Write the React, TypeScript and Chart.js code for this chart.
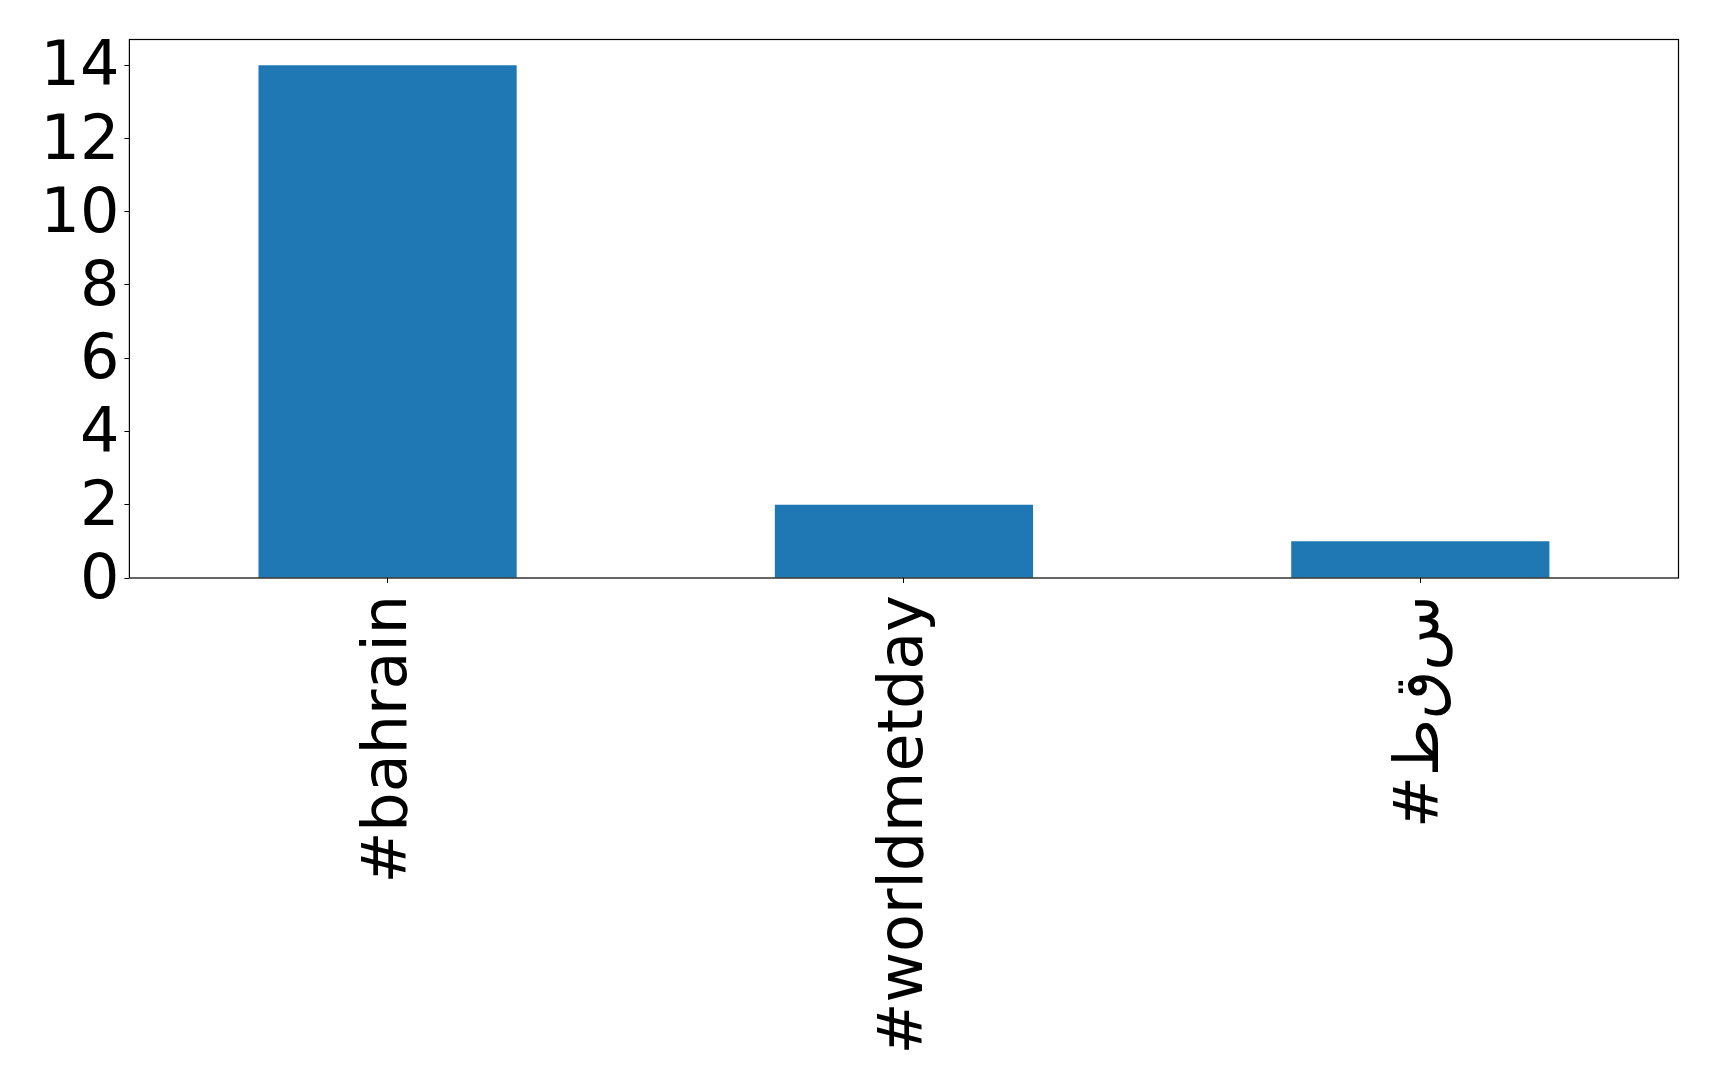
import React, { useEffect, useRef } from "react";
import { Chart, registerables } from "chart.js";

Chart.register(...registerables);

const categories = ["#bahrain", "#worldmetday", "#طقس"];
const counts = [14, 2, 1];
const yTickValues = [0, 2, 4, 6, 8, 10, 12, 14];
const yMin = 0;
const yMax = 14.7;

// matplotlib draws Arabic letters unshaped, in logical order, left to right
const ISOLATED: Record<string, string> = { "ط": "\uFEC1", "ق": "\uFED5", "س": "\uFEB1" };
function unshaped(s: string): string {
  const mapped = Array.from(s).map((c) => ISOLATED[c] ?? c).join("");
  return mapped !== s ? "\u202D" + mapped + "\u202C" : s;
}

const FONT = "'DejaVu Sans', sans-serif";

const framePlugin = {
  id: "frame",
  afterDraw(chart: any) {
    const { ctx, chartArea: a } = chart;
    ctx.save();
    ctx.strokeStyle = "#000";
    ctx.lineWidth = 1.2;
    ctx.strokeRect(a.left, a.top, a.right - a.left, a.bottom - a.top);
    ctx.restore();
  },
};

export default function App() {
  const ref = useRef<HTMLCanvasElement | null>(null);
  useEffect(() => {
    const prevMargin = document.body.style.margin;
    document.body.style.margin = "0";
    const canvas = ref.current!;
    const chart = new Chart(canvas, {
      type: "bar",
      data: {
        labels: categories,
        datasets: [
          {
            data: counts,
            backgroundColor: "#1f77b4",
            borderWidth: 0,
            categoryPercentage: 1,
            barPercentage: 0.5,
          },
        ],
      },
      plugins: [framePlugin],
      options: {
        animation: false,
        responsive: false,
        devicePixelRatio: 1,
        layout: { padding: { left: 0, top: 39.5, right: 40.5, bottom: 0 } },
        plugins: { legend: { display: false }, tooltip: { enabled: false } },
        scales: {
          x: {
            type: "category",
            offset: true,
            border: { display: false },
            grid: {
              offset: false,
              drawOnChartArea: false,
              drawTicks: true,
              tickLength: 5,
              color: "#000",
              lineWidth: 1,
            },
            ticks: {
              color: "#000",
              font: { family: FONT, size: 62 },
              minRotation: 90,
              maxRotation: 90,
              autoSkip: false,
              padding: 12,
              labelOffset: 2,
              callback: function (this: any, v: any) {
                return unshaped(this.getLabelForValue(v));
              },
            },
            afterFit: (s: any) => {
              s.height = 513;
              s.paddingLeft = 0;
              s.paddingRight = 0;
            },
          },
          y: {
            min: yMin,
            max: yMax,
            border: { display: false },
            grid: {
              drawOnChartArea: false,
              drawTicks: true,
              tickLength: 5,
              color: "#000",
              lineWidth: 1,
            },
            ticks: {
              color: "#000",
              font: { family: FONT, size: 62 },
              padding: 5,
              labelOffset: 4,
              autoSkip: false,
              includeBounds: false,
            },
            afterBuildTicks: (s: any) => {
              s.ticks = yTickValues.map((v) => ({ value: v }));
            },
            afterFit: (s: any) => {
              s.width = 129.4;
              s.paddingTop = 0;
              s.paddingBottom = 0;
            },
          },
        },
      },
    });
    return () => {
      chart.destroy();
      document.body.style.margin = prevMargin;
    };
  }, []);
  return (
    <canvas
      ref={ref}
      width={1719}
      height={1091}
      style={{ position: "fixed", left: 0, top: 0, width: 1719, height: 1091, background: "#fff" }}
    />
  );
}
